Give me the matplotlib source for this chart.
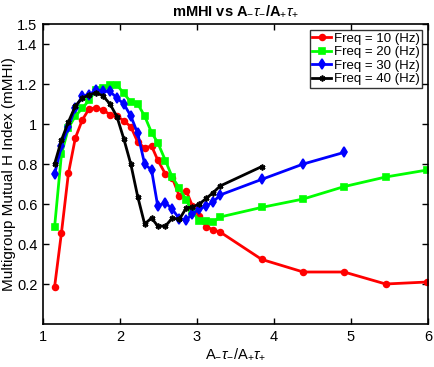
import matplotlib
matplotlib.use("Agg")
import matplotlib.pyplot as plt

plt.rcParams['font.family'] = ['Liberation Sans', 'DejaVu Sans']
plt.rcParams['mathtext.fontset'] = 'custom'
plt.rcParams['mathtext.rm'] = 'Liberation Sans'
plt.rcParams['mathtext.it'] = 'Liberation Sans:italic'
plt.rcParams['mathtext.bf'] = 'Liberation Sans:bold'

x_dense = [1.15, 1.24, 1.33, 1.42, 1.51, 1.60, 1.69, 1.78, 1.87, 1.96, 2.05, 2.14,
           2.23, 2.32, 2.41, 2.49, 2.59, 2.68, 2.77, 2.86, 2.94, 3.03, 3.12, 3.21, 3.30]
x_outer = [3.84, 4.38, 4.91, 5.45, 5.99]

y10 = [0.184, 0.457, 0.753, 0.93, 1.02, 1.077, 1.08, 1.07, 1.047, 1.04, 1.015, 0.987,
       0.91, 0.88, 0.89, 0.82, 0.75, 0.73, 0.64, 0.667, 0.59, 0.54, 0.487, 0.47, 0.46,
       0.323, 0.26, 0.26, 0.20, 0.21]
y20 = [0.483, 0.85, 0.98, 1.04, 1.078, 1.12, 1.17, 1.178, 1.195, 1.195, 1.153, 1.11,
       1.10, 1.04, 0.957, 0.907, 0.817, 0.733, 0.68, 0.62, 0.56, 0.517, 0.515, 0.51, 0.535,
       0.583, 0.625, 0.687, 0.735, 0.77]
y30 = [0.748, 0.89, 0.987, 1.08, 1.14, 1.147, 1.17, 1.163, 1.163, 1.13, 1.10, 1.04,
       0.953, 0.80, 0.77, 0.59, 0.607, 0.573, 0.527, 0.52, 0.55, 0.575, 0.59, 0.61, 0.645,
       0.723, 0.80, 0.858]
y40 = [0.80, 0.92, 1.01, 1.09, 1.13, 1.145, 1.157, 1.14, 1.10, 1.037, 0.925, 0.80,
       0.637, 0.50, 0.53, 0.49, 0.49, 0.53, 0.523, 0.58, 0.585, 0.60, 0.628, 0.657, 0.69,
       0.787]

labels = ['Freq = 10 (Hz)', 'Freq = 20 (Hz)', 'Freq = 30 (Hz)', 'Freq = 40 (Hz)']
xticks = [1, 2, 3, 4, 5, 6]
yticks = [0.2, 0.4, 0.6, 0.8, 1.0, 1.2, 1.4, 1.5]
yticklabels = ['0.2', '0.4', '0.6', '0.8', '1', '1.2', '1.4', '1.5']

xs = x_dense + x_outer
series = [
    (xs[:len(y10)], y10, (1, 0, 0), 'o', 4.2),
    (xs[:len(y20)], y20, (0, 1, 0), 's', 4.0),
    (xs[:len(y30)], y30, (0, 0, 1), 'd', 4.6),
    (xs[:len(y40)], y40, (0, 0, 0), (6, 2, 0), 4.2),
]

fig = plt.figure(figsize=(4.35, 3.67), dpi=100)
ax = fig.add_axes([43/435, 1-324/367, (428-43)/435, (324-24)/367])

for (x, y, c, m, ms), lab in zip(series, labels):
    ax.plot(x, y, color=c, marker=m, markersize=ms, linewidth=2,
            markerfacecolor=c, markeredgecolor=c, markeredgewidth=1.2, label=lab)

ax.set_xlim(1, 6)
ax.set_ylim(0, 1.5)
ax.set_xticks(xticks)
ax.set_xticklabels([str(t) for t in xticks])
ax.set_yticks(yticks)
ax.set_yticklabels(yticklabels)
ax.tick_params(direction='in', top=True, right=True, labelsize=10.5, length=4, width=1,
               pad=4)
for s in ax.spines.values():
    s.set_linewidth(1.2)

ax.set_title(r'mMHI vs A$_{-}\tau_{-}$/A$_{+}\tau_{+}$', fontsize=10.5,
             fontweight='bold', pad=6)
ax.set_xlabel(r'A$_{-}\tau_{-}$/A$_{+}\tau_{+}$', fontsize=10.5, labelpad=2)
ax.set_ylabel('Multigroup Mutual H Index (mMHI)', fontsize=11, labelpad=1)

leg = ax.legend(loc='upper right', fontsize=9.5, frameon=True, fancybox=False,
                handlelength=1.4, handletextpad=0.2, borderpad=0.2, labelspacing=0.1,
                borderaxespad=0.45)
leg.get_frame().set_edgecolor('black')
leg.get_frame().set_linewidth(1)

fig.savefig('out.png', dpi=100)
